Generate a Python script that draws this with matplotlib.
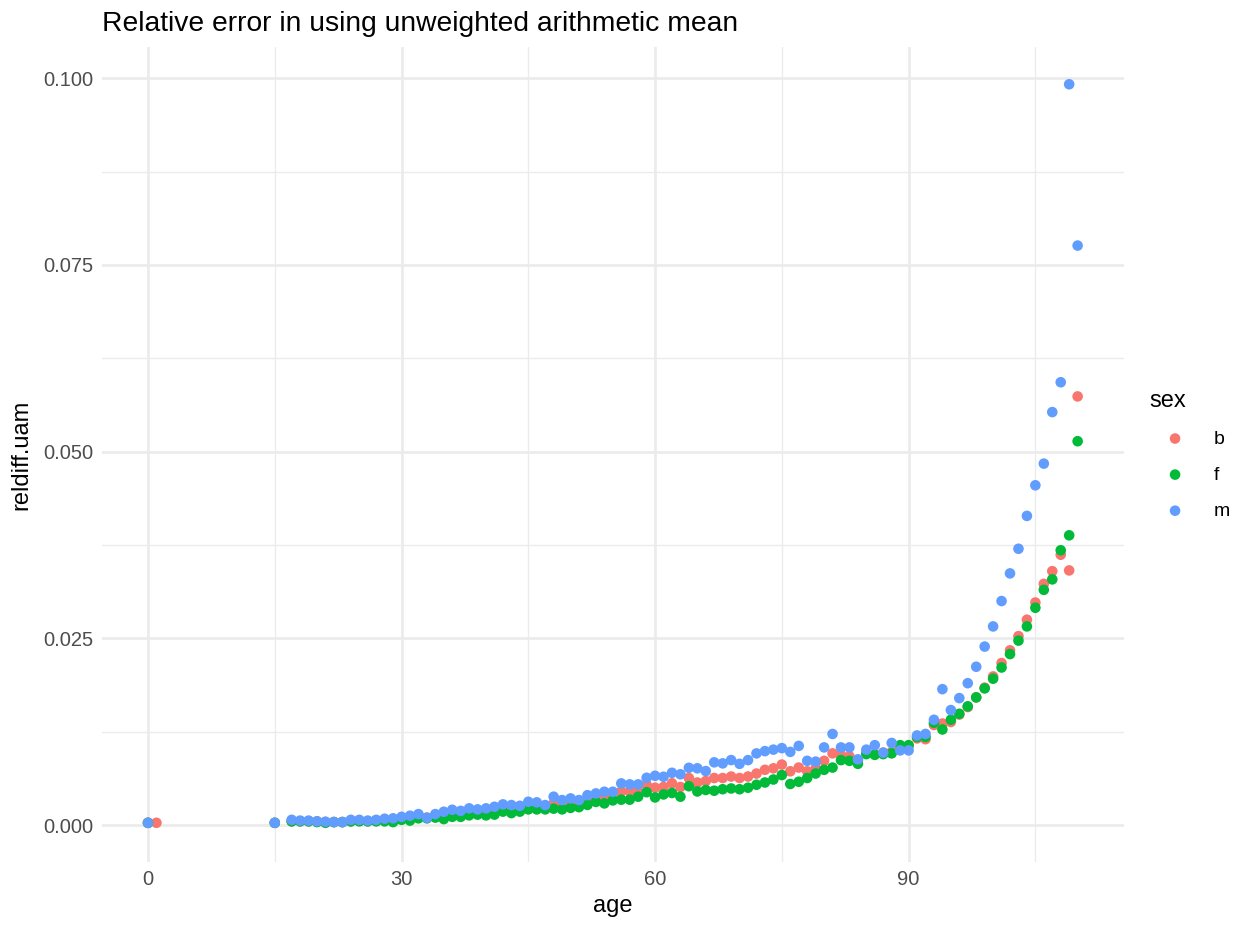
import numpy as np
import matplotlib
matplotlib.use("Agg")
import matplotlib.pyplot as plt

plt.rcParams['font.family'] = ['Liberation Sans', 'DejaVu Sans']

# 1. DATA
ages_tail = list(range(17, 111))

ages_b = [0, 1, 15] + ages_tail
reldiff_b = [0.0003, 0.0003, 0.0003,
             0.0005, 0.0005, 0.0005, 0.0005, 0.0004, 0.0004, 0.0004, 0.0005, 0.0006, 0.0005,
             0.0006, 0.0007, 0.0008, 0.0009, 0.0010, 0.0012, 0.0010, 0.0012, 0.0014, 0.0016,
             0.00125, 0.0018, 0.0018, 0.0018, 0.0020, 0.0023, 0.0022, 0.0022, 0.0026, 0.0025,
             0.0025, 0.0029, 0.0027, 0.0029, 0.0028, 0.0034, 0.0036, 0.0036, 0.0037, 0.0045,
             0.0045, 0.0045, 0.0054, 0.0050, 0.0051, 0.0056, 0.0051, 0.0063, 0.0057, 0.0059,
             0.0063, 0.0063, 0.0065, 0.0063, 0.0065, 0.0069, 0.0074, 0.0076, 0.0081, 0.0072,
             0.0077, 0.0072, 0.0076, 0.0086, 0.0096, 0.0094, 0.0092, 0.0087, 0.0097, 0.0095,
             0.0097, 0.0098, 0.0105, 0.0106, 0.0116, 0.0115, 0.0134, 0.0136, 0.0138, 0.0148,
             0.0158, 0.0171, 0.0184, 0.0199, 0.0217, 0.0234, 0.0253, 0.0275, 0.0298, 0.0323,
             0.0340, 0.0362, 0.0341, 0.0574]

ages_f = [0, 15] + ages_tail
reldiff_f = [0.0003, 0.0003,
             0.0005, 0.0005, 0.0005, 0.0004, 0.0003, 0.0004, 0.0004, 0.0005, 0.0005, 0.0005,
             0.0005, 0.0005, 0.0004, 0.0007, 0.0006, 0.0009, 0.0009, 0.0010, 0.0008, 0.0011,
             0.0011, 0.0013, 0.0014, 0.0013, 0.0014, 0.0018, 0.0016, 0.0018, 0.0021, 0.0021,
             0.0021, 0.0022, 0.0021, 0.0023, 0.0024, 0.0027, 0.0031, 0.0029, 0.0033, 0.0034,
             0.0034, 0.0038, 0.0044, 0.0037, 0.0041, 0.0043, 0.0038, 0.0052, 0.0045, 0.0047,
             0.0046, 0.0048, 0.0049, 0.0048, 0.0050, 0.0054, 0.0057, 0.0061, 0.0067, 0.0055,
             0.0058, 0.0063, 0.0069, 0.0074, 0.0077, 0.0087, 0.0086, 0.0082, 0.0095, 0.0094,
             0.0095, 0.0096, 0.0107, 0.0107, 0.0118, 0.0118, 0.0137, 0.0128, 0.0141, 0.0149,
             0.0159, 0.0171, 0.0183, 0.0196, 0.0211, 0.0229, 0.0247, 0.0266, 0.0291, 0.0315,
             0.0329, 0.0368, 0.0388, 0.0514]

ages_m = [0, 15] + ages_tail
reldiff_m = [0.0003, 0.0003,
             0.0007, 0.0006, 0.0006, 0.0005, 0.00045, 0.0004, 0.0004, 0.0007, 0.0007, 0.0006,
             0.0007, 0.00085, 0.0009, 0.0011, 0.00125, 0.00147, 0.00098, 0.00147, 0.00178, 0.00205,
             0.0019, 0.00224, 0.0021, 0.00224, 0.00245, 0.00277, 0.00268, 0.00258, 0.00312, 0.00304,
             0.00268, 0.0038, 0.00335, 0.00357, 0.00335, 0.0040, 0.00424, 0.00446, 0.00446, 0.00558,
             0.00545, 0.00545, 0.00633, 0.0066, 0.00647, 0.0070, 0.0068, 0.00767, 0.0076, 0.00723,
             0.0084, 0.00826, 0.0087, 0.0082, 0.0087, 0.0096, 0.0099, 0.0101, 0.0103, 0.0098,
             0.0106, 0.0086, 0.0085, 0.0104, 0.0122, 0.0104, 0.0104, 0.0088, 0.0101, 0.0107,
             0.0097, 0.0110, 0.0100, 0.0100, 0.0120, 0.0122, 0.0141, 0.0182, 0.0154, 0.0170,
             0.0190, 0.0212, 0.0239, 0.0266, 0.0300, 0.0337, 0.0370, 0.0414, 0.0455, 0.0484,
             0.0553, 0.0593, 0.0992, 0.0776]

sexes = ['b', 'f', 'm']
colors = ['#F8766D', '#00BA38', '#619CFF']

# 2. FIGURE (ggplot theme_minimal look)
fig = plt.figure(figsize=(12.38, 9.26), dpi=100)
ax = fig.add_axes([0.082, 0.069, 0.826, 0.880])

for sex, ages, vals, col in zip(sexes, [ages_b, ages_f, ages_m],
                                [reldiff_b, reldiff_f, reldiff_m], colors):
    ax.scatter(ages, vals, s=58, color=col, edgecolors='none', label=sex, zorder=3)

ax.set_xlim(-5.5, 115.5)
ax.set_ylim(-0.00496, 0.10416)
ax.set_xticks([0, 30, 60, 90])
ax.set_xticks([15, 45, 75, 105], minor=True)
ax.set_yticks([0.0, 0.025, 0.05, 0.075, 0.1])
ax.set_yticklabels(['0.000', '0.025', '0.050', '0.075', '0.100'])
ax.set_yticks([0.0125, 0.0375, 0.0625, 0.0875], minor=True)

ax.grid(True, which='major', color='#EBEBEB', lw=1.9)
ax.grid(True, which='minor', color='#EBEBEB', lw=1.0)
ax.set_axisbelow(True)
for sp in ax.spines.values():
    sp.set_visible(False)
ax.tick_params(which='both', length=0, labelsize=14.5, labelcolor='#4D4D4D', pad=6)

ax.set_xlabel('age', fontsize=17, labelpad=4)
ax.set_ylabel('reldiff.uam', fontsize=17, labelpad=8)
ax.set_title('Relative error in using unweighted arithmetic mean', fontsize=20.3,
             loc='left', pad=12)

leg = ax.legend(title='sex', loc='center left', bbox_to_anchor=(1.008, 0.5),
                frameon=False, fontsize=14, title_fontsize=17,
                labelspacing=0.95, handlelength=2.6, handletextpad=0.7,
                borderaxespad=0.5)
leg._legend_box.align = 'left'

fig.savefig('out.png', dpi=100)
